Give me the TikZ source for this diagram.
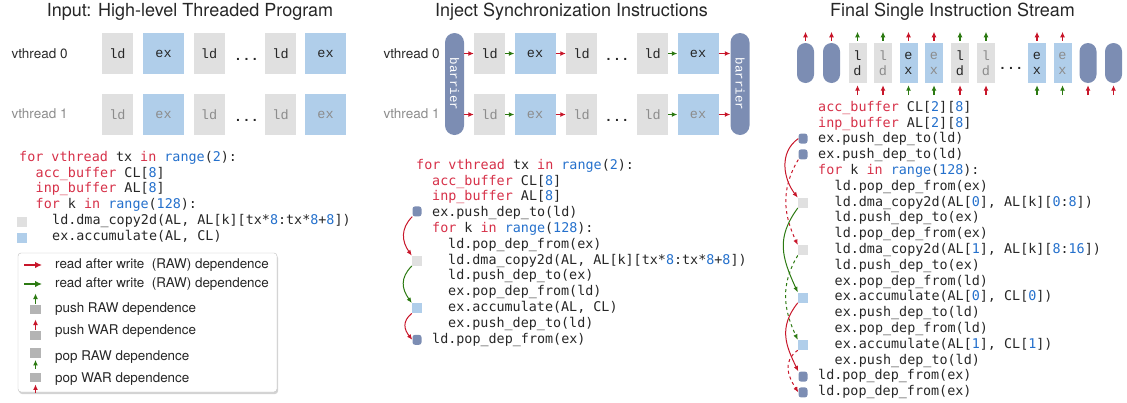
\documentclass[tikz,border=0pt]{standalone}
\usepackage{fontspec}
\setmainfont{TeX Gyre Heros}
\newfontfamily\codefont{DejaVu Sans Mono}
\newfontfamily\boxfont{Liberation Mono}
\usetikzlibrary{arrows.meta,shadows}
\definecolor{ldgray}{RGB}{224,224,224}
\definecolor{exblue}{RGB}{176,206,234}
\definecolor{barblue}{RGB}{124,141,179}
\definecolor{kwred}{RGB}{214,48,72}
\definecolor{numblue}{RGB}{36,112,204}
\definecolor{arrred}{RGB}{200,22,42}
\definecolor{arrgreen}{RGB}{44,122,18}
\definecolor{codetxt}{RGB}{38,38,38}
\definecolor{dimtxt}{RGB}{140,140,140}
\definecolor{legsq}{RGB}{180,180,180}
\newcommand\kw[1]{\textcolor{kwred}{#1}}
\newcommand\nm[1]{\textcolor{numblue}{#1}}
\tikzset{
  title/.style={anchor=base, text=codetxt, font=\fontsize{18}{20}\selectfont},
  thread/.style={anchor=west, text=codetxt, font=\fontsize{13.5}{15}\selectfont},
  ldbox/.style={fill=ldgray, minimum width=31pt, minimum height=41pt, inner sep=0pt, text=codetxt, font=\boxfont\fontsize{13.5}{15}\selectfont},
  exbox/.style={ldbox, fill=exblue, minimum width=41pt},
  barbox/.style={fill=barblue, rounded corners=9.5pt, minimum width=19pt, minimum height=102pt, inner sep=0pt, text=white, font=\boxfont\fontsize{12.5}{14}\selectfont},
  slimld/.style={ldbox, minimum width=18pt, minimum height=40pt, align=center},
  slimex/.style={slimld, fill=exblue},
  slimbar/.style={fill=barblue, rounded corners=8.5pt, minimum width=17pt, minimum height=40pt, inner sep=0pt},
  dotstxt/.style={anchor=base, inner sep=0pt, text=codetxt, font=\boxfont\bfseries\fontsize{14}{15}\selectfont},
  code/.style={anchor=west, inner sep=0pt, text height=9.5pt, text depth=3pt, text=codetxt, font=\codefont\fontsize{13.4}{15.8}\selectfont},
  ldmark/.style={fill=ldgray, minimum size=10pt, inner sep=0pt},
  exmark/.style={ldmark, fill=exblue},
  barmark/.style={fill=barblue, rounded corners=2.5pt, minimum width=9pt, minimum height=10pt, inner sep=0pt},
  legsquare/.style={fill=legsq, minimum width=11pt, minimum height=9.5pt, inner sep=0pt},
  legtxt/.style={anchor=west, inner sep=0pt, text=codetxt, font=\fontsize{13.4}{15}\selectfont},
  redarr/.style={draw=arrred, line width=1.7pt, -{Latex[length=5.5pt,width=5pt]}},
  grnarr/.style={redarr, draw=arrgreen},
  legarr/.style={line width=2.2pt, -{Latex[length=7pt,width=6.5pt]}},
  arc/.style={line width=1pt, -{Latex[length=5.5pt,width=4.5pt]}}
}
\begin{document}
\begin{tikzpicture}[x=1pt,y=-1pt]
  \useasboundingbox (0,0) rectangle (1127,402);
  %% titles
  \node[title] (t1) at (190,16.5) {Input: High-level Threaded Program};
  \node[title] (t2) at (571.5,16.5) {Inject Synchronization Instructions};
  \node[title] (t3) at (952.5,16.5) {Final Single Instruction Stream};

  %% ---- input program
  \node[thread] (v0) at (8,53.5) {vthread 0};
  \node[thread, text=dimtxt] (v1) at (8,113.5) {vthread 1};
  \foreach \n/\s/\k/\x in {1/ldbox/ld/117.5, 2/exbox/ex/163.5, 3/ldbox/ld/209, 4/ldbox/ld/280.5, 5/exbox/ex/325.5} {
    \node[\s] (p\n) at (\x,53.5) {\k};
    \node[\s, text=dimtxt] (q\n) at (\x,114.5) {\k};
  }
  \node[dotstxt] (pd) at (246.5,60) {...};
  \node[dotstxt] (qd) at (246.5,121) {...};
  %% code
  \foreach \i/\d/\txt in {
      0/0/{\kw{for vthread} tx \kw{in} \nm{range}(\nm{2}):},
      1/1/{\kw{acc\_buffer} CL[\nm{8}]},
      2/1/{\kw{inp\_buffer} AL[\nm{8}]},
      3/1/{\kw{for} k \kw{in} \nm{range}(\nm{128}):},
      4/2/{ld.dma\_copy2d(AL, AL[k][tx*\nm{8}:tx*\nm{8}+\nm{8}])},
      5/2/{ex.accumulate(AL, CL)}}
    \node[code] (L\i) at (19+\d*16.5,158.3+\i*15.7) {\txt};
  \coordinate (lx) at (22,0);
  \node[ldmark] (l4) at ([yshift=-1pt]lx |- L4) {};
  \node[exmark] (l5) at ([yshift=-1pt]lx |- L5) {};

  %% legend
  \draw[draw=black!25, fill=white, rounded corners=3pt,
        drop shadow={opacity=0.35, shadow xshift=1pt, shadow yshift=-2pt}] (18,253) rectangle (277,392);
  \coordinate (g0) at (24,265);
  \coordinate (g1) at (42,265);
  \draw[legarr, arrred] (g0) -- (g1);
  \node[legtxt] at (55,265) {read after write\ \ (RAW) dependence};
  \draw[legarr, arrgreen] (24,284) -- (42,284);
  \node[legtxt] at (55,284) {read after write\ \ (RAW) dependence};
  \node[legsquare] (s1) at (35.5,309.5) {};
  \draw[grnarr] (s1.north) ++(0,-1) -- ++(0,-10);
  \node[legtxt] at (55,309) {push RAW dependence};
  \node[legsquare] (s2) at (35.5,335.5) {};
  \draw[redarr] (s2.north) ++(0,-1) -- ++(0,-10);
  \node[legtxt] at (55,331) {push WAR dependence};
  \node[legsquare] (s3) at (35.5,353) {};
  \draw[grnarr] (s3.south) ++(0,11) -- ++(0,-9);
  \node[legtxt] at (55,357) {pop RAW dependence};
  \node[legsquare] (s4) at (35.5,377.5) {};
  \draw[redarr] (s4.south) ++(0,11) -- ++(0,-9);
  \node[legtxt] at (55,379) {pop WAR dependence};

  %% ---- injected synchronization
  \node[thread] (w0) at (380,53.5) {vthread 0};
  \node[thread, text=dimtxt] (w1) at (380,113.5) {vthread 1};
  \node[barbox] (b0) at (454.5,84) {\rotatebox{-90}{barrier}};
  \node[barbox] (b1) at (740,84) {\rotatebox{-90}{barrier}};
  \foreach \n/\s/\k/\x in {1/ldbox/ld/489.5, 2/exbox/ex/535, 3/ldbox/ld/581.5, 4/ldbox/ld/652.5, 5/exbox/ex/698} {
    \node[\s] (m\n) at (\x,53.5) {\k};
    \node[\s, text=dimtxt] (n\n) at (\x,114.5) {\k};
  }
  \node[dotstxt] (md) at (617,60) {...};
  \node[dotstxt] (nd) at (617,121) {...};
  \foreach \r in {m,n} {
    \draw[redarr] (b0.east |- \r1.west) -- (\r1.west);
    \draw[grnarr] (\r1) -- (\r2);
    \draw[redarr] (\r2) -- (\r3);
    \draw[grnarr] (\r4) -- (\r5);
    \draw[redarr] (\r5.east) -- (b1.west |- \r5.east);
  }
  %% code
  \foreach \i/\d/\txt in {
      0/0/{\kw{for vthread} tx \kw{in} \nm{range}(\nm{2}):},
      1/1/{\kw{acc\_buffer} CL[\nm{8}]},
      2/1/{\kw{inp\_buffer} AL[\nm{8}]},
      3/1/{ex.push\_dep\_to(ld)},
      4/1/{\kw{for} k \kw{in} \nm{range}(\nm{128}):},
      5/2/{ld.pop\_dep\_from(ex)},
      6/2/{ld.dma\_copy2d(AL, AL[k][tx*\nm{8}:tx*\nm{8}+\nm{8}])},
      7/2/{ld.push\_dep\_to(ex)},
      8/2/{ex.pop\_dep\_from(ld)},
      9/2/{ex.accumulate(AL, CL)},
      10/2/{ex.push\_dep\_to(ld)},
      11/1/{ld.pop\_dep\_from(ex)}}
    \node[code] (M\i) at (416+\d*16,166+\i*15.8) {\txt};
  \coordinate (mx) at (417,0);
  \node[barmark] (k3) at ([yshift=2pt]mx |- M3) {};
  \node[ldmark] (k6) at (mx |- M6) {};
  \node[exmark] (k9) at (mx |- M9) {};
  \node[barmark] (k11) at (mx |- M11) {};
  \draw[arc, arrred] (k3.south west) .. controls +(-12,12) and +(-10,-14) .. (k6.north west);
  \draw[arc, arrgreen] (k6.south west) .. controls +(-12,12) and +(-10,-14) .. (k9.north west);
  \draw[arc, arrred] (k9.south west) .. controls +(-10,8) and +(-8,-10) .. (k11.west);

  %% ---- final stream
  \foreach \n/\s/\k/\x in {3/slimld/{l\\d}/857.5, 5/slimex/{e\\x}/908.5, 7/slimld/{l\\d}/960, 9/slimex/{e\\x}/1037} {
    \node[\s] (r\n) at (\x,63) {\k};
  }
  \foreach \n/\s/\k/\x in {4/slimld/{l\\d}/883, 6/slimex/{e\\x}/934, 8/slimld/{l\\d}/986, 10/slimex/{e\\x}/1062.5} {
    \node[\s, text=dimtxt] (r\n) at (\x,63) {\k};
  }
  \foreach \n/\x in {1/805.5, 2/831.5, 11/1088, 12/1113.5}
    \node[slimbar] (r\n) at (\x,63) {};
  \node[dotstxt] (rd) at (1011,69) {...};
  \foreach \n/\a in {1/redarr, 2/redarr, 3/grnarr, 4/grnarr, 5/redarr, 6/redarr, 7/grnarr, 8/grnarr, 9/redarr, 10/redarr}
    \draw[\a, line width=1.2pt] (r\n.north) ++(0,-2) -- ++(0,-9);
  \foreach \n/\a in {3/redarr, 4/redarr, 5/grnarr, 6/grnarr, 7/redarr, 8/redarr, 9/grnarr, 10/grnarr, 11/redarr, 12/redarr}
    \draw[\a, line width=1.2pt] (r\n.south) ++(0,12) -- ++(0,-10);
  %% code
  \foreach \i/\d/\txt in {
      0/0/{\kw{acc\_buffer} CL[\nm{2}][\nm{8}]},
      1/0/{\kw{inp\_buffer} AL[\nm{2}][\nm{8}]},
      2/0/{ex.push\_dep\_to(ld)},
      3/0/{ex.push\_dep\_to(ld)},
      4/0/{\kw{for} k \kw{in} \nm{range}(\nm{128}):},
      5/1/{ld.pop\_dep\_from(ex)},
      6/1/{ld.dma\_copy2d(AL[\nm{0}], AL[k][\nm{0}:\nm{8}])},
      7/1/{ld.push\_dep\_to(ex)},
      8/1/{ld.pop\_dep\_from(ex)},
      9/1/{ld.dma\_copy2d(AL[\nm{1}], AL[k][\nm{8}:\nm{16}])},
      10/1/{ld.push\_dep\_to(ex)},
      11/1/{ex.pop\_dep\_from(ld)},
      12/1/{ex.accumulate(AL[\nm{0}], CL[\nm{0}])},
      13/1/{ex.push\_dep\_to(ld)},
      14/1/{ex.pop\_dep\_from(ld)},
      15/1/{ex.accumulate(AL[\nm{1}], CL[\nm{1}])},
      16/1/{ex.push\_dep\_to(ld)},
      17/0/{ld.pop\_dep\_from(ex)},
      18/0/{ld.pop\_dep\_from(ex)}}
    \node[code] (R\i) at (818+\d*16.5,108+\i*15.8) {\txt};
  \coordinate (rx) at (803,0);
  \node[barmark] (h2) at ([yshift=1pt]rx |- R2) {};
  \node[barmark] (h3) at ([yshift=1pt]rx |- R3) {};
  \node[ldmark] (h6) at (rx |- R6) {};
  \node[ldmark] (h9) at (rx |- R9) {};
  \node[exmark] (h12) at (rx |- R12) {};
  \node[exmark] (h15) at (rx |- R15) {};
  \node[barmark] (h17) at (rx |- R17) {};
  \node[barmark] (h18) at (rx |- R18) {};
  \draw[arc, arrred] (h2.west) .. controls +(-20,14) and +(-14,-18) .. (h6.north west);
  \draw[arc, arrred, dashed] (h3.south west) .. controls +(-18,30) and +(-14,-30) .. (h9.north west);
  \draw[arc, arrgreen] (h6.south west) .. controls +(-22,30) and +(-16,-35) .. (h12.north west);
  \draw[arc, arrgreen, dashed] (h9.south west) .. controls +(-18,30) and +(-14,-30) .. (h15.north west);
  \draw[arc, arrred] (h12.south west) .. controls +(-20,25) and +(-12,-25) .. (h17.north west);
  \draw[arc, arrred, dashed] (h15.south west) .. controls +(-16,12) and +(-10,-16) .. (h18.west);
\end{tikzpicture}
\end{document}
